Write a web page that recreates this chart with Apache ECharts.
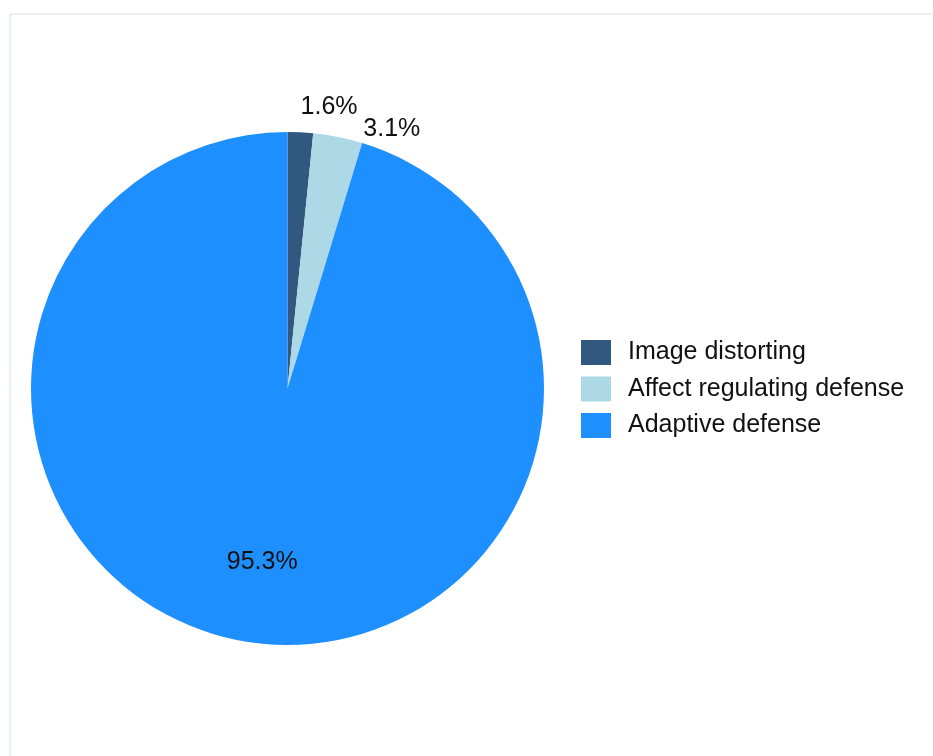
<!DOCTYPE html>
<html>
<head>
<meta charset="utf-8">
<script src="https://cdn.jsdelivr.net/npm/echarts@6/dist/echarts.min.js"></script>
<style>
html,body{margin:0;padding:0;background:#fff;}
#c{width:933px;height:756px;}
</style>
</head>
<body>
<div id="c"></div>
<script>
// Data
const categories = ["Image distorting", "Affect regulating defense", "Adaptive defense"];
const values = [1.6, 3.1, 95.3];
const labels = ["1.6%", "3.1%", "95.3%"];
const colors = ["#31587e", "#add8e6", "#1e8fff"];

// Label placement (polar: angle from 12 o'clock clockwise, radius factor)
const labelPolar = [
  { ang: 8.4, rf: 1.108 },
  { ang: 21.9, rf: 1.09 },
  { ang: 188.3, rf: 0.683 }
];
const CX = 287.5, CY = 388.5, R = 256.5;
const FONT = "'Liberation Sans', Arial, sans-serif";

const chart = echarts.init(document.getElementById('c'), null, { renderer: 'canvas' });
chart.setOption({
  animation: false,
  backgroundColor: '#ffffff',
  color: colors,
  textStyle: { fontFamily: FONT },
  graphic: [
    { type: 'line', shape: { x1: 10, y1: 14, x2: 933, y2: 14 }, style: { stroke: '#e5ebee', lineWidth: 1.5 } },
    { type: 'line', shape: { x1: 10, y1: 14, x2: 10, y2: 756 }, style: { stroke: '#e5ebee', lineWidth: 1.5 } }
  ],
  legend: {
    orient: 'vertical',
    left: 581,
    top: 340,
    padding: 0,
    itemWidth: 30,
    itemHeight: 25,
    itemGap: 11.5,
    icon: 'rect',
    selectedMode: false,
    textStyle: { fontSize: 25, lineHeight: 25, color: '#111', padding: [0, 0, 0, 12], fontFamily: FONT },
    data: categories
  },
  series: [{
    type: 'pie',
    center: [CX, CY],
    radius: [0, R],
    startAngle: 90,
    clockwise: true,
    minAngle: 0,
    avoidLabelOverlap: false,
    itemStyle: { borderWidth: 0 },
    emphasis: { disabled: true },
    label: {
      show: true,
      position: 'inside',
      formatter: function (p) { return labels[p.dataIndex]; },
      fontSize: 25,
      color: '#111',
      fontFamily: FONT
    },
    labelLine: { show: false },
    labelLayout: function (p) {
      const lp = labelPolar[p.dataIndex];
      const a = lp.ang * Math.PI / 180;
      return {
        x: CX + Math.sin(a) * R * lp.rf,
        y: CY - Math.cos(a) * R * lp.rf,
        align: 'center',
        verticalAlign: 'middle'
      };
    },
    data: categories.map(function (n, i) { return { name: n, value: values[i] }; })
  }]
});
</script>
</body>
</html>
